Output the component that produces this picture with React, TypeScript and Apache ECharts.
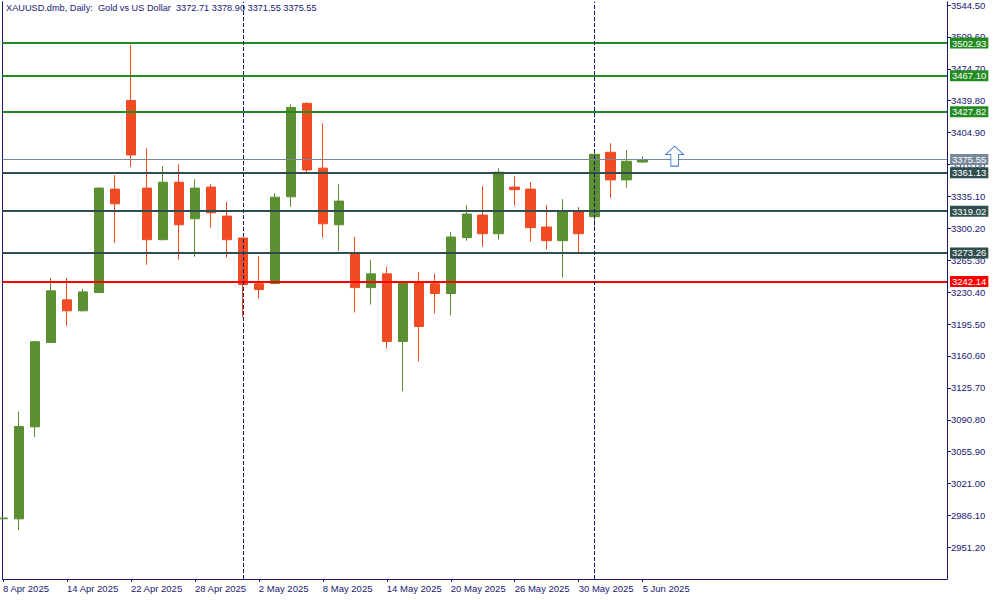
import React, { useEffect, useRef } from 'react';
import * as echarts from 'echarts';

// ---------- DATA ----------
const titleText = 'XAUUSD.dmb, Daily:  Gold vs US Dollar  3372.71 3378.90 3371.55 3375.55';

const dates = [
  '8 Apr 2025', '9 Apr 2025', '10 Apr 2025', '11 Apr 2025', '14 Apr 2025', '15 Apr 2025',
  '16 Apr 2025', '17 Apr 2025', '22 Apr 2025', '23 Apr 2025', '24 Apr 2025', '25 Apr 2025',
  '28 Apr 2025', '29 Apr 2025', '30 Apr 2025', '1 May 2025', '2 May 2025', '5 May 2025',
  '6 May 2025', '7 May 2025', '8 May 2025', '9 May 2025', '12 May 2025', '13 May 2025',
  '14 May 2025', '15 May 2025', '16 May 2025', '19 May 2025', '20 May 2025', '21 May 2025',
  '22 May 2025', '23 May 2025', '26 May 2025', '27 May 2025', '28 May 2025', '29 May 2025',
  '30 May 2025', '2 Jun 2025', '3 Jun 2025', '4 Jun 2025', '5 Jun 2025',
];

const opens = [
  2982.5, 2982.4, 3083.1, 3175.4, 3222.0, 3210.0, 3230.0, 3343.1, 3440.1, 3344.2,
  3287.8, 3350.7, 3310.7, 3345.3, 3313.6, 3289.6, 3239.5, 3239.8, 3334.7, 3436.9,
  3366.0, 3304.1, 3273.3, 3235.4, 3250.4, 3176.5, 3240.5, 3239.5, 3228.9, 3290.0,
  3314.7, 3294.3, 3345.3, 3343.1, 3301.6, 3286.7, 3319.1, 3312.9, 3383.4, 3353.2,
  3372.71,
];
const closes = [
  2983.3, 3083.5, 3176.2, 3231.8, 3210.0, 3230.7, 3344.2, 3327.0, 3380.5, 3287.8,
  3350.7, 3304.1, 3344.2, 3317.2, 3287.8, 3238.7, 3233.2, 3334.3, 3432.5, 3364.1,
  3305.2, 3330.0, 3235.4, 3250.4, 3176.5, 3240.5, 3192.9, 3228.9, 3290.7, 3315.8,
  3294.3, 3361.6, 3342.5, 3300.9, 3286.7, 3319.1, 3294.3, 3381.2, 3353.2, 3373.6,
  3375.55,
];
const lows = [
  2982.0, 2970.1, 3071.8, 3175.0, 3193.6, 3209.5, 3229.5, 3284.5, 3367.4, 3260.5,
  3287.0, 3266.0, 3269.2, 3300.9, 3268.1, 3202.7, 3223.4, 3239.0, 3323.8, 3360.8,
  3290.0, 3275.8, 3208.2, 3216.9, 3168.9, 3122.0, 3154.7, 3207.1, 3204.9, 3286.7,
  3280.1, 3287.8, 3325.0, 3285.6, 3276.9, 3246.3, 3272.5, 3300.9, 3333.6, 3344.5,
  3371.55,
];
const highs = [
  2984.0, 3099.9, 3177.0, 3246.0, 3246.0, 3234.0, 3345.0, 3358.3, 3500.9, 3387.8,
  3368.1, 3370.3, 3354.0, 3348.5, 3328.9, 3290.0, 3270.0, 3338.7, 3435.8, 3438.0,
  3415.0, 3348.5, 3290.7, 3265.6, 3258.0, 3241.5, 3252.5, 3250.4, 3296.2, 3325.6,
  3346.3, 3366.0, 3357.2, 3350.7, 3325.6, 3332.2, 3323.5, 3384.5, 3393.2, 3385.6,
  3378.90,
];

// x-axis labelled bars (indices into dates)
const xLabelIndices = [0, 4, 8, 12, 16, 20, 24, 28, 32, 36, 40];
// month separators (bar indices)
const separators = [15, 37];

// y-axis tick labels
const yTicks = [
  2951.2, 2986.1, 3021.0, 3055.9, 3090.8, 3125.7, 3160.6, 3195.5, 3230.4,
  3265.3, 3300.2, 3335.1, 3370.0, 3404.9, 3439.8, 3474.7, 3509.6, 3544.5,
];

// horizontal levels
const resistanceLevels = [3502.93, 3467.10, 3427.82];
const supportLevels = [3361.13, 3319.02, 3273.26];
const keyLevel = [3242.14];
const bidPrice = 3375.55;

// up-arrow object: [bar index, price]
const arrowPoint = [42, 3379.2];

// ---------- STYLE ----------
const NAVY = '#191970';
const GREEN_LINE = '#228B22';
const SLATE = '#2F4F4F';
const RED = '#FF0000';
const BID = '#778899';
const BULL = '#5B8F32';
const BEAR = '#F04B23';
const ARROW = '#1E64C8';
const FONT = 'Tahoma, "Liberation Sans", Arial, sans-serif';
const FS = 9.5;

export default function App() {
  const ref = useRef<HTMLDivElement>(null);

  useEffect(() => {
    if (!ref.current) return;
    const chart = echarts.init(ref.current, null, { renderer: 'svg' });

    const candleData = dates.map((_, i) => [i, opens[i], closes[i], lows[i], highs[i]]);

    const levelItem = (v: number, color: string, width: number) => ({
      yAxis: v,
      lineStyle: { color, width, type: 'solid' },
      label: { backgroundColor: color },
    });

    const markData: any[] = [
      levelItem(bidPrice, BID, 1),
      ...resistanceLevels.map((v) => levelItem(v, GREEN_LINE, 2)),
      ...supportLevels.map((v) => levelItem(v, SLATE, 2)),
      ...keyLevel.map((v) => levelItem(v, RED, 2)),
      ...separators.map((i) => ({
        xAxis: i,
        lineStyle: { color: NAVY, width: 1, type: [4, 2] },
        label: { show: false },
      })),
    ];

    const option: any = {
      animation: false,
      backgroundColor: '#ffffff',
      textStyle: { fontFamily: FONT },
      grid: { left: 2, right: 53, top: 0, bottom: 21 },
      xAxis: {
        type: 'value',
        min: -0.03125,
        max: 59.03125,
        position: 'bottom',
        axisLine: { show: true, onZero: false, lineStyle: { color: NAVY, width: 1 } },
        axisTick: { show: true, length: 3, lineStyle: { color: NAVY }, customValues: xLabelIndices },
        axisLabel: {
          customValues: xLabelIndices,
          formatter: (v: number) => dates[Math.round(v)] ?? '',
          align: 'left',
          margin: 4,
          color: NAVY,
          fontSize: FS,
          fontFamily: FONT,
        },
        splitLine: { show: false },
      },
      yAxis: [
        {
          type: 'value',
          position: 'right',
          min: 2916.63,
          max: 3548.1,
          axisLine: { show: true, onZero: false, lineStyle: { color: NAVY, width: 1 } },
          axisTick: { show: true, length: 4, lineStyle: { color: NAVY }, customValues: yTicks },
          axisLabel: {
            customValues: yTicks,
            formatter: (v: number) => v.toFixed(2),
            margin: 4,
            color: NAVY,
            fontSize: FS,
            fontFamily: FONT,
          },
          splitLine: { show: false },
        },
        {
          type: 'value',
          position: 'left',
          min: 2916.63,
          max: 3548.1,
          axisLine: { show: true, onZero: false, lineStyle: { color: NAVY, width: 1 } },
          axisTick: { show: false },
          axisLabel: { show: false },
          splitLine: { show: false },
        },
      ],
      series: [
        {
          type: 'candlestick',
          xAxisIndex: 0,
          yAxisIndex: 0,
          data: candleData,
          encode: { x: 0, y: [1, 2, 3, 4] },
          barWidth: 10,
          clip: true,
          silent: true,
          itemStyle: {
            color: BULL,
            color0: BEAR,
            borderColor: BULL,
            borderColor0: BEAR,
            borderWidth: 1,
          },
          markLine: {
            silent: true,
            symbol: ['none', 'none'],
            animation: false,
            label: {
              show: true,
              position: 'end',
              formatter: (p: any) => Number(p.value).toFixed(2),
              color: '#ffffff',
              fontSize: FS,
              fontFamily: FONT,
              padding: [1, 2, 0, 2],
              distance: 3,
            },
            emphasis: { disabled: true },
            data: markData,
          },
        },
        {
          type: 'scatter',
          xAxisIndex: 0,
          yAxisIndex: 0,
          silent: true,
          z: 5,
          data: [arrowPoint],
          symbol: 'path://M8.7,0 L17.4,8.3 L12.4,8.3 L12.4,19.7 L5,19.7 L5,8.3 L0,8.3 Z',
          symbolSize: [18, 20],
          itemStyle: { color: '#ffffff', borderColor: ARROW, borderWidth: 1 },
        },
      ],
      graphic: [
        {
          type: 'text',
          left: 6,
          top: 3,
          z: 10,
          style: { text: titleText, fill: NAVY, font: `9.2px ${FONT}` },
        },
      ],
    };

    chart.setOption(option);
    return () => chart.dispose();
  }, []);

  return (
    <div
      ref={ref}
      style={{ position: 'fixed', left: 0, top: 0, width: 1000, height: 600, background: '#ffffff' }}
    />
  );
}
